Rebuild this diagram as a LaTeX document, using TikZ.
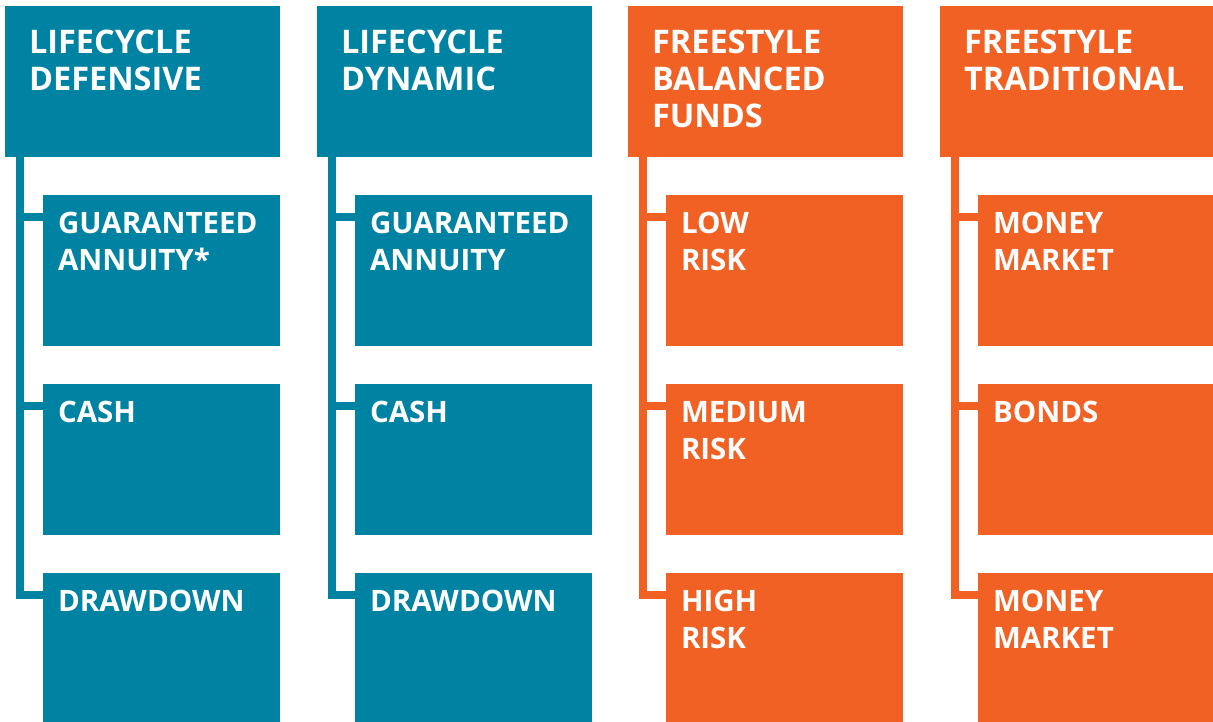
\documentclass[tikz,border=0pt]{standalone}
\usepackage{fontspec}
\setmainfont{Open Sans}
\definecolor{teal}{RGB}{0,130,163}
\definecolor{orng}{RGB}{242,97,36}
\newcommand\mycol[7]{%
  \node[hdr, fill=#3] (h#1) at (#2+5,6) {};
  \node[subbox, fill=#3] (s#1a) at (#2+43,195) {};
  \node[subbox, fill=#3] (s#1b) at (#2+43,384) {};
  \node[subbox, fill=#3] (s#1c) at (#2+43,573) {};
  \node[htxt] (h#1t) at ([shift={(24pt,-24pt)}]h#1.north west) {#4};
  \node[stxt] (s#1at) at ([shift={(15pt,-17pt)}]s#1a.north west) {#5};
  \node[stxt] (s#1bt) at ([shift={(15pt,-17pt)}]s#1b.north west) {#6};
  \node[stxt] (s#1ct) at ([shift={(15pt,-17pt)}]s#1c.north west) {#7};
  \coordinate (t#1) at ([shift={(15pt,0pt)}]h#1.south west);
  \coordinate (b#1a) at ([yshift=-22pt]s#1a.north west);
  \coordinate (b#1b) at ([yshift=-22pt]s#1b.north west);
  \coordinate (b#1c) at ([yshift=-22pt]s#1c.north west);
  \draw[trunk, draw=#3] (t#1) |- (b#1c);
  \draw[trunk, draw=#3] (t#1 |- b#1a) -- (b#1a);
  \draw[trunk, draw=#3] (t#1 |- b#1b) -- (b#1b);
}
\begin{document}
\begin{tikzpicture}[x=1pt,y=-1pt,
  hdr/.style={draw=none, inner sep=0pt, outer sep=0pt, anchor=north west, minimum width=275pt, minimum height=151pt},
  subbox/.style={draw=none, inner sep=0pt, outer sep=0pt, anchor=north west, minimum width=237pt, minimum height=151pt},
  htxt/.style={anchor=north west, inner sep=0pt, outer sep=0pt, text=white, align=left, font=\fontsize{32.5}{37}\selectfont\bfseries},
  stxt/.style={htxt, font=\fontsize{29.5}{37}\selectfont\bfseries},
  trunk/.style={line width=8pt}]
\useasboundingbox (0,0) rectangle (1213,722);
\mycol{1}{0}{teal}{LIFECYCLE\\DEFENSIVE}{GUARANTEED\\ANNUITY*}{CASH}{DRAWDOWN}
\mycol{2}{312}{teal}{LIFECYCLE\\DYNAMIC}{GUARANTEED\\ANNUITY}{CASH}{DRAWDOWN}
\mycol{3}{623}{orng}{FREESTYLE\\BALANCED\\FUNDS}{LOW\\RISK}{MEDIUM\\RISK}{HIGH\\RISK}
\mycol{4}{935}{orng}{FREESTYLE\\TRADITIONAL}{MONEY\\MARKET}{BONDS}{MONEY\\MARKET}
\end{tikzpicture}
\end{document}
